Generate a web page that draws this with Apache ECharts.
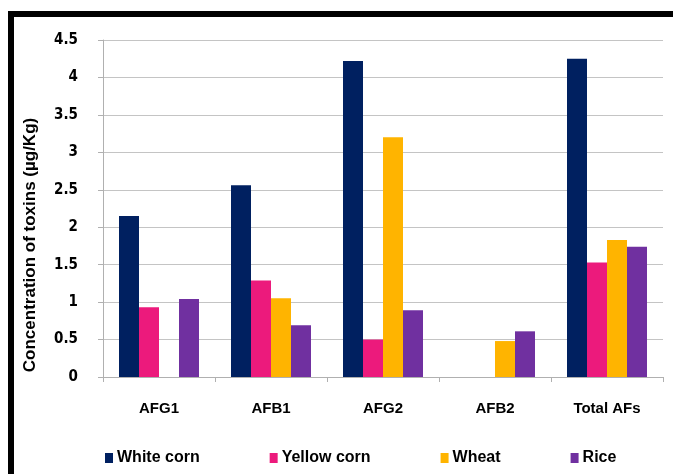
<!DOCTYPE html>
<html>
<head>
<meta charset="utf-8">
<script src="https://cdn.jsdelivr.net/npm/echarts@6/dist/echarts.min.js"></script>
<style>
  html, body { margin: 0; padding: 0; background: #ffffff; overflow: hidden; }
  #frame {
    position: absolute; left: 8px; top: 11px; width: 720px; height: 520px;
    border: 6px solid #000000; box-sizing: border-box;
  }
  #chart { position: absolute; left: 0; top: 0; width: 673px; height: 474px; }
</style>
</head>
<body>
<div id="frame"></div>
<div id="chart"></div>
<script>
// Aflatoxin concentrations per toxin and commodity (µg/Kg)
const categories = ['AFG1', 'AFB1', 'AFG2', 'AFB2', 'Total AFs'];
const seriesNames = ['White corn', 'Yellow corn', 'Wheat', 'Rice'];
const whiteCorn  = [2.15, 2.56, 4.22, null, 4.25];
const yellowCorn = [0.93, 1.29, 0.50, null, 1.53];
const wheat      = [null, 1.05, 3.20, 0.48, 1.83];
const rice       = [1.04, 0.69, 0.89, 0.61, 1.74];
const yTicks = { min: 0, max: 4.5, interval: 0.5 };

const colors = ['#002060', '#EC1A7C', '#FFB400', '#7030A0'];
const values = [whiteCorn, yellowCorn, wheat, rice];

const boldFont = '"Liberation Sans", Arial, sans-serif';
const narrowFont = '"Liberation Sans Narrow", "DejaVu Sans Condensed", "Liberation Sans", sans-serif';

const chart = echarts.init(document.getElementById('chart'), null, { renderer: 'canvas' });
chart.setOption({
  backgroundColor: 'transparent',
  animation: false,
  grid: { left: 103, right: 10, top: 40, bottom: 97, containLabel: false },
  legend: {
    data: seriesNames,
    left: 105,
    top: 450,
    padding: 0,
    itemWidth: 8,
    itemHeight: 10,
    itemGap: 70,
    icon: 'rect',
    textStyle: { fontFamily: boldFont, fontWeight: 'bold', fontSize: 16, color: '#000', padding: [0, 0, 0, -1] }
  },
  xAxis: {
    type: 'category',
    data: categories,
    axisLine: { lineStyle: { color: '#b0b0b0', width: 1 } },
    axisTick: { show: true, length: 5, alignWithLabel: false, lineStyle: { color: '#b0b0b0' } },
    axisLabel: { fontFamily: boldFont, fontWeight: 'bold', fontSize: 15, color: '#000', margin: 24 }
  },
  yAxis: {
    type: 'value',
    min: yTicks.min,
    max: yTicks.max,
    interval: yTicks.interval,
    axisLine: { show: true, lineStyle: { color: '#b0b0b0', width: 1 } },
    axisTick: { show: true, length: 5, lineStyle: { color: '#b0b0b0' } },
    splitLine: { lineStyle: { color: '#c4c4c4', width: 1 } },
    axisLabel: { fontFamily: narrowFont, fontWeight: 'bold', fontSize: 15, color: '#000', margin: 25 }
  },
  graphic: [{
    type: 'text',
    x: 30,
    y: 245,
    rotation: Math.PI / 2,
    style: {
      text: 'Concentration of toxins (µg/Kg)',
      font: 'bold 17px "Liberation Sans", Arial, sans-serif',
      fill: '#000',
      align: 'center',
      verticalAlign: 'middle'
    }
  }],
  series: seriesNames.map((name, i) => ({
    name: name,
    type: 'bar',
    data: values[i],
    barWidth: 20,
    barGap: '0%',
    itemStyle: { color: colors[i] }
  }))
});
</script>
</body>
</html>
